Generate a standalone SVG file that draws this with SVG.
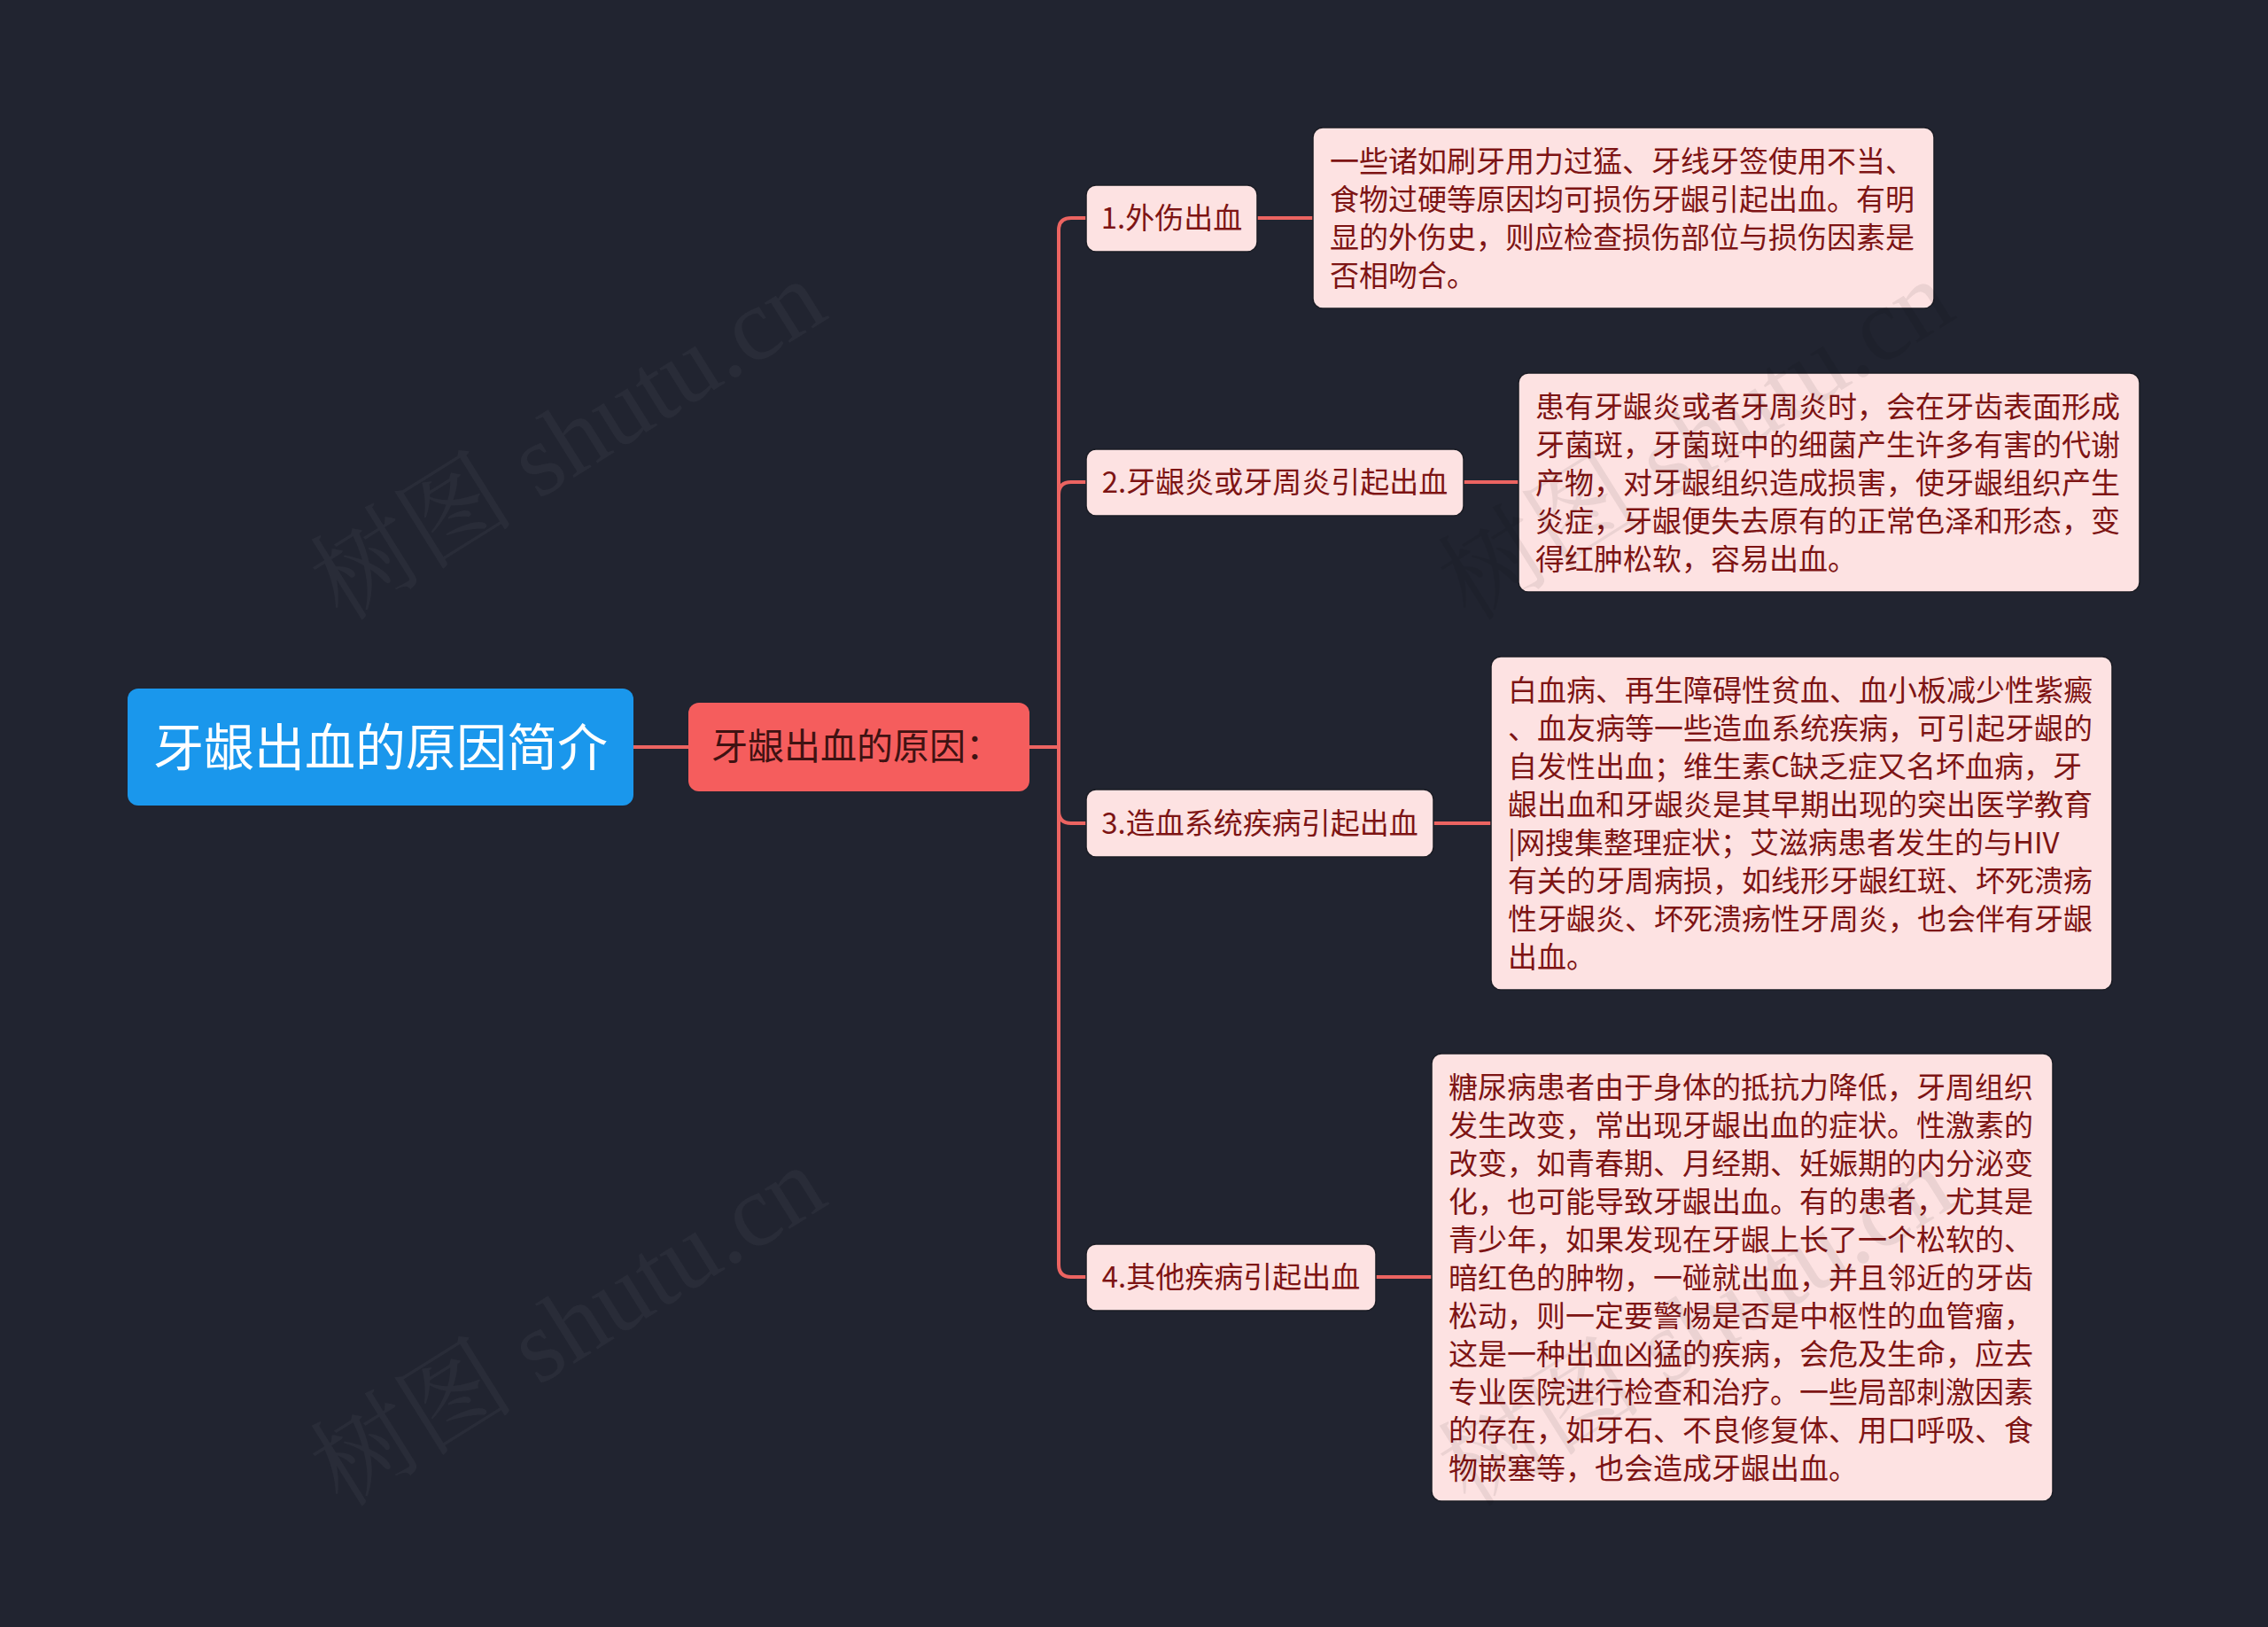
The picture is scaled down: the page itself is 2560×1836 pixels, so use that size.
<svg xmlns="http://www.w3.org/2000/svg" width="2560" height="1836" viewBox="0 0 2560 1836">
<style>
text{font-family:"Microsoft YaHei","Noto Sans CJK SC","Noto Sans",sans-serif;}
.box{fill:#fde2e2;stroke:#1a1c24;stroke-width:1.5;}
.bt{font-size:33px;fill:#7d1414;}
.lt{font-size:33px;fill:#7d1414;}
.con{fill:none;stroke:#ec6461;stroke-width:4;}
.wm{font-size:116px;font-family:"Liberation Serif","Noto Serif CJK SC","Noto Sans CJK SC",serif;}
.wd{fill:#ffffff;fill-opacity:0.04;}
.wl{fill:#000000;fill-opacity:0.07;}
</style>
<rect width="2560" height="1836" fill="#212430"/>
<g id="connectors">
<path class="con" d="M715,843 H777"/>
<path class="con" d="M1162,843 H1195"/>
<path class="con" d="M1195,843 V260 Q1195,246 1209,246 H1226"/>
<path class="con" d="M1195,843 V558 Q1195,544 1209,544 H1226"/>
<path class="con" d="M1195,843 V915 Q1195,929 1209,929 H1226"/>
<path class="con" d="M1195,843 V1427 Q1195,1441 1209,1441 H1226"/>
<path class="con" d="M1419,246 H1482"/>
<path class="con" d="M1652,544 H1714"/>
<path class="con" d="M1618,929 H1683"/>
<path class="con" d="M1553,1441 H1616"/>
</g>
<g id="root">
<rect x="144" y="777" width="571" height="132" rx="12" fill="#1a97ec"/>
<text x="429.5" y="864" font-size="57" fill="#ffffff" text-anchor="middle">牙龈出血的原因简介</text>
</g>
<g id="main">
<rect x="777" y="793" width="385" height="100" rx="12" fill="#f55d5d"/>
<text x="967" y="857" font-size="41" fill="#3f1212" text-anchor="middle">牙龈出血的原因：</text>
</g>
<g id="b1">
<rect class="box" x="1226" y="209" width="193" height="75" rx="11"/>
<text class="bt" x="1322.5" y="258" text-anchor="middle">1.外伤出血</text>
</g>
<g id="b2">
<rect class="box" x="1226" y="507" width="426" height="75" rx="11"/>
<text class="bt" x="1439" y="556" text-anchor="middle">2.牙龈炎或牙周炎引起出血</text>
</g>
<g id="b3">
<rect class="box" x="1226" y="891" width="392" height="76" rx="11"/>
<text class="bt" x="1422" y="941" text-anchor="middle">3.造血系统疾病引起出血</text>
</g>
<g id="b4">
<rect class="box" x="1226" y="1404" width="327" height="75" rx="11"/>
<text class="bt" x="1389.5" y="1453" text-anchor="middle">4.其他疾病引起出血</text>
</g>
<g id="l1">
<rect class="box" x="1482" y="144" width="701" height="204" rx="11"/>
<text class="lt" x="1501" y="194"><tspan x="1501">一些诸如刷牙用力过猛、牙线牙签使用不当、</tspan><tspan x="1501" dy="43">食物过硬等原因均可损伤牙龈引起出血。有明</tspan><tspan x="1501" dy="43">显的外伤史，则应检查损伤部位与损伤因素是</tspan><tspan x="1501" dy="43">否相吻合。</tspan></text>
</g>
<g id="l2">
<rect class="box" x="1714" y="421" width="701" height="247" rx="11"/>
<text class="lt" x="1733" y="471"><tspan x="1733">患有牙龈炎或者牙周炎时，会在牙齿表面形成</tspan><tspan x="1733" dy="43">牙菌斑，牙菌斑中的细菌产生许多有害的代谢</tspan><tspan x="1733" dy="43">产物，对牙龈组织造成损害，使牙龈组织产生</tspan><tspan x="1733" dy="43">炎症，牙龈便失去原有的正常色泽和形态，变</tspan><tspan x="1733" dy="43">得红肿松软，容易出血。</tspan></text>
</g>
<g id="l3">
<rect class="box" x="1683" y="741" width="701" height="376" rx="11"/>
<text class="lt" x="1702" y="791"><tspan x="1702">白血病、再生障碍性贫血、血小板减少性紫癜</tspan><tspan x="1702" dy="43">、血友病等一些造血系统疾病，可引起牙龈的</tspan><tspan x="1702" dy="43">自发性出血；维生素C缺乏症又名坏血病，牙</tspan><tspan x="1702" dy="43">龈出血和牙龈炎是其早期出现的突出医学教育</tspan><tspan x="1702" dy="43">|网搜集整理症状；艾滋病患者发生的与HIV</tspan><tspan x="1702" dy="43">有关的牙周病损，如线形牙龈红斑、坏死溃疡</tspan><tspan x="1702" dy="43">性牙龈炎、坏死溃疡性牙周炎，也会伴有牙龈</tspan><tspan x="1702" dy="43">出血。</tspan></text>
</g>
<g id="l4">
<rect class="box" x="1616" y="1189" width="701" height="505" rx="11"/>
<text class="lt" x="1635" y="1239"><tspan x="1635">糖尿病患者由于身体的抵抗力降低，牙周组织</tspan><tspan x="1635" dy="43">发生改变，常出现牙龈出血的症状。性激素的</tspan><tspan x="1635" dy="43">改变，如青春期、月经期、妊娠期的内分泌变</tspan><tspan x="1635" dy="43">化，也可能导致牙龈出血。有的患者，尤其是</tspan><tspan x="1635" dy="43">青少年，如果发现在牙龈上长了一个松软的、</tspan><tspan x="1635" dy="43">暗红色的肿物，一碰就出血，并且邻近的牙齿</tspan><tspan x="1635" dy="43">松动，则一定要警惕是否是中枢性的血管瘤，</tspan><tspan x="1635" dy="43">这是一种出血凶猛的疾病，会危及生命，应去</tspan><tspan x="1635" dy="43">专业医院进行检查和治疗。一些局部刺激因素</tspan><tspan x="1635" dy="43">的存在，如牙石、不良修复体、用口呼吸、食</tspan><tspan x="1635" dy="43">物嵌塞等，也会造成牙龈出血。</tspan></text>
</g>
<g id="watermarks">
<text class="wm wd" text-anchor="middle" transform="translate(662,530) rotate(-32)">树图 shutu.cn</text>
<text class="wm wd" text-anchor="middle" transform="translate(662,1530) rotate(-32)">树图 shutu.cn</text>
<text class="wm wl" text-anchor="middle" transform="translate(1935,530) rotate(-32)">树图 shutu.cn</text>
<text class="wm wl" text-anchor="middle" transform="translate(1935,1530) rotate(-32)">树图 shutu.cn</text>
</g>
</svg>
